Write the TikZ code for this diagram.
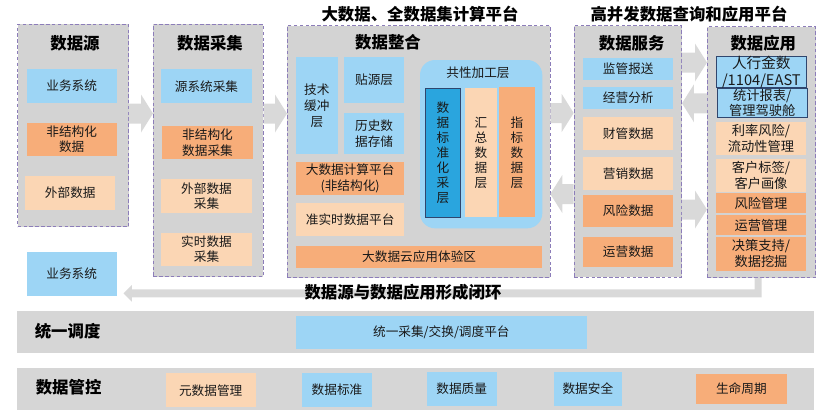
\documentclass[tikz,border=0pt]{standalone}
\usepackage{fontspec}
\setmainfont{Noto Sans CJK SC}
\usetikzlibrary{calc}

\definecolor{panelgray}{RGB}{211,211,211}
\definecolor{rowgray}{RGB}{214,214,214}
\definecolor{arrowgray}{RGB}{217,217,217}
\definecolor{skyblue}{RGB}{157,213,245}
\definecolor{deeporange}{RGB}{247,173,121}
\definecolor{peach}{RGB}{251,214,180}
\definecolor{darkcyan}{RGB}{42,165,222}
\definecolor{navyline}{RGB}{47,70,110}
\definecolor{dashline}{RGB}{140,125,185}

\tikzset{
  area/.style args={(#1,#2)(#3,#4)}{minimum width={(#3-#1)*0.03cm}, minimum height={(#4-#2)*0.03cm},
    at={({(#1+#3)/2},{(#2+#4)/2})}},
  panel/.style={fill=panelgray, draw=dashline, densely dashed, line width=0.5pt, inner sep=0pt},
  row/.style={fill=rowgray, inner sep=0pt},
  box/.style={inner sep=0pt, align=center, text=black!90, font=\fontsize{10.8}{13}\selectfont},
  bluebox/.style={box, fill=skyblue},
  orangebox/.style={box, fill=deeporange},
  peachbox/.style={box, fill=peach},
  title/.style={font=\fontsize{14}{16}\selectfont\bfseries},
  fatarrow/.style={fill=arrowgray}
}

% fat arrows between panels: from, to, y of the middle
\newcommand\fatright[3]{%
  \fill[fatarrow] (#1.east |- 0,{#3-10}) -- ($(#2.west |- 0,{#3-10})+(-12,0)$)
    -- ($(#2.west |- 0,{#3-19})+(-12,0)$) -- (#2.west |- 0,#3)
    -- ($(#2.west |- 0,{#3+19})+(-12,0)$) -- ($(#2.west |- 0,{#3+10})+(-12,0)$)
    -- (#1.east |- 0,{#3+10}) -- cycle;}
\newcommand\fatleft[3]{%
  \fill[fatarrow] (#1.west |- 0,{#3-10}) -- ($(#2.east |- 0,{#3-10})+(12,0)$)
    -- ($(#2.east |- 0,{#3-19})+(12,0)$) -- (#2.east |- 0,#3)
    -- ($(#2.east |- 0,{#3+19})+(12,0)$) -- ($(#2.east |- 0,{#3+10})+(12,0)$)
    -- (#1.west |- 0,{#3+10}) -- cycle;}

\begin{document}
\begin{tikzpicture}[x=0.03cm, y=-0.03cm]
  \useasboundingbox (0,0) rectangle (831,418);

  % platform titles
  \node[title] (bigtitle) at (420,14) {大数据、全数据集计算平台};
  \node[title] (querytitle) at (689,14) {高并发数据查询和应用平台};

  % five panels
  \node[panel, area={(17.7,24.3)(128.7,226.7)}] (src) {};
  \node[panel, area={(153.3,24.3)(263.3,276.7)}] (acq) {};
  \node[panel, area={(287.3,25.7)(550,277.7)}] (integ) {};
  \node[panel, area={(574,25.7)(681.7,277.3)}] (svc) {};
  \node[panel, area={(707.3,26.7)(815.7,277.7)}] (app) {};

  \fatright{src}{acq}{113.5}
  \fatright{acq}{integ}{113.5}
  \fatright{integ}{svc}{113}
  \fatleft{svc}{integ}{194}
  \fatright{svc}{app}{62.5}
  \fatleft{app}{svc}{103.3}
  \fatright{svc}{app}{209.5}

  % data sources
  \node[title] (srctitle) at (75,43) {数据源};
  \node[bluebox, area={(26.7,69.3)(116.7,102.7)}] (biz) {业务系统};
  \node[orangebox, area={(26.7,122.7)(116.7,156)}] (unstr) {非结构化\\数据};
  \node[peachbox, area={(25.3,176)(115.3,210)}] (ext) {外部数据};
  \node[bluebox, area={(26.7,251.7)(116.7,296)}] (biz2) {业务系统};

  % data acquisition
  \node[title] (acqtitle) at (210,43) {数据采集};
  \node[bluebox, area={(161.3,69.3)(251.7,103.3)}] (srcacq) {源系统采集};
  \node[orangebox, area={(162.3,126)(252.7,159.3)}] (unstracq) {非结构化\\数据采集};
  \node[peachbox, area={(161.3,179.3)(251.7,212.7)}] (extacq) {外部数据\\采集};
  \node[peachbox, area={(161.3,232.7)(251.7,265.7)}] (rtacq) {实时数据\\采集};

  % data integration
  \node[title] (integtitle) at (388,42.7) {数据整合};
  \node[bluebox, area={(296,57.3)(337.7,154.3)}, font=\fontsize{10.8}{13.6}\selectfont] (buffer) {技术\\缓冲\\层};
  \node[bluebox, area={(344,57.3)(404.3,102.7)}] (ods) {贴源层};
  \node[bluebox, area={(344,113.3)(404.3,154.3)}] (hist) {历史数\\据存储};
  \node[orangebox, area={(296,162)(404.3,195)}] (bigcalc) {大数据计算平台\\(非结构化)};
  \node[peachbox, area={(296,203.3)(404.3,236)}] (nrt) {准实时数据平台};
  \node[orangebox, area={(296,246)(542.3,268.3)}] (cloud) {大数据云应用体验区};
  \node[fill=skyblue, rounded corners=0.45cm, inner sep=0pt, area={(420,60)(542.3,228.3)}] (common) {};
  \node[box] (commontitle) at (478,73) {共性加工层};
  \node[box, fill=darkcyan, draw=navyline, line width=0.6pt, area={(425,88.3)(460.7,217.3)}, font=\fontsize{10.8}{12.8}\selectfont] (std) {数\\据\\标\\准\\化\\采\\层};
  \node[peachbox, area={(465,88.3)(496.7,217.3)}, font=\fontsize{10.8}{12.8}\selectfont] (sum) {汇\\总\\数\\据\\层};
  \node[orangebox, area={(499,87.3)(535,217.3)}, font=\fontsize{10.8}{12.8}\selectfont] (kpi) {指\\标\\数\\据\\层};

  % data services
  \node[title] (svctitle) at (631.7,43.3) {数据服务};
  \node[bluebox, area={(583.3,58.3)(673.3,80)}] (report) {监管报送};
  \node[bluebox, area={(583.3,87.3)(673.3,109)}] (oper) {经营分析};
  \node[peachbox, area={(583.3,117.3)(673.3,150)}] (fin) {财管数据};
  \node[peachbox, area={(583.3,157.3)(673.3,190)}] (mkt) {营销数据};
  \node[orangebox, area={(583.3,195)(673.3,226.7)}] (risk) {风险数据};
  \node[orangebox, area={(583.3,236.7)(673.3,266.7)}] (opdata) {运营数据};

  % data applications
  \node[title] (apptitle) at (763.3,43.3) {数据应用};
  \node[bluebox, draw=navyline, line width=0.6pt, area={(716,57.3)(806.7,86.7)}, font=\fontsize{12.5}{14}\selectfont] (pboc) {人行金数\\/1104/EAST};
  \node[bluebox, draw=navyline, line width=0.6pt, area={(717.3,88.3)(807.3,117.7)}, font=\fontsize{11.3}{13.5}\selectfont] (cockpit) {统计报表/\\管理驾驶舱};
  \node[peachbox, area={(716,122.3)(806,155)}, font=\fontsize{11.3}{13.5}\selectfont] (rate) {利率风险/\\流动性管理};
  \node[peachbox, area={(716,159)(806,191.7)}, font=\fontsize{11.3}{13.5}\selectfont] (cust) {客户标签/\\客户画像};
  \node[orangebox, area={(716,193.3)(806,213.3)}, font=\fontsize{11.3}{13.5}\selectfont] (riskmgmt) {风险管理};
  \node[orangebox, area={(716,215)(806,235)}, font=\fontsize{11.3}{13.5}\selectfont] (opmgmt) {运营管理};
  \node[orangebox, area={(716,236.7)(806,270.7)}, font=\fontsize{11.3}{13.5}\selectfont] (mining) {决策支持/\\数据挖掘};

  % closed loop back to the sources
  \fill[fatarrow] ($(app.south)+(-7,0)$) -- (app.south) -- (app.south |- 0,297.3)
    -- ($(biz2.east |- 0,297.3)+(15,0)$) -- ($(biz2.east |- 0,301.7)+(15,0)$)
    -- ($(biz2.east |- 0,293.3)+(6.6,0)$) -- ($(biz2.east |- 0,285)+(15,0)$)
    -- ($(biz2.east |- 0,289.3)+(15,0)$) -- ($(app.south |- 0,289.3)+(-7,0)$) -- cycle;
  \node[title] (looplbl) at (403,292.7) {数据源与数据应用形成闭环};

  % scheduling and governance rows
  \node[row, area={(16.7,311)(814.3,352.7)}] (sched) {};
  \node[title, anchor=west] (schedlbl) at (30.7,331.7) {统一调度};
  \node[bluebox, area={(296,316)(586.7,349.3)}] (schedplat) {统一采集/交换/调度平台};
  \node[row, area={(16.7,367.7)(814.3,410)}] (gov) {};
  \node[title, anchor=west] (govlbl) at (31.7,387.3) {数据管控};
  \node[peachbox, area={(165.7,373.3)(255.7,407.3)}] (meta) {元数据管理};
  \node[bluebox, area={(301.7,373.3)(372.3,406.7)}] (stdmgmt) {数据标准};
  \node[bluebox, area={(426.7,371.7)(496.7,405.7)}] (quality) {数据质量};
  \node[bluebox, area={(554,372.3)(621.7,405.7)}] (security) {数据安全};
  \node[orangebox, area={(696,374)(786.7,404)}] (life) {生命周期};
\end{tikzpicture}
\end{document}
